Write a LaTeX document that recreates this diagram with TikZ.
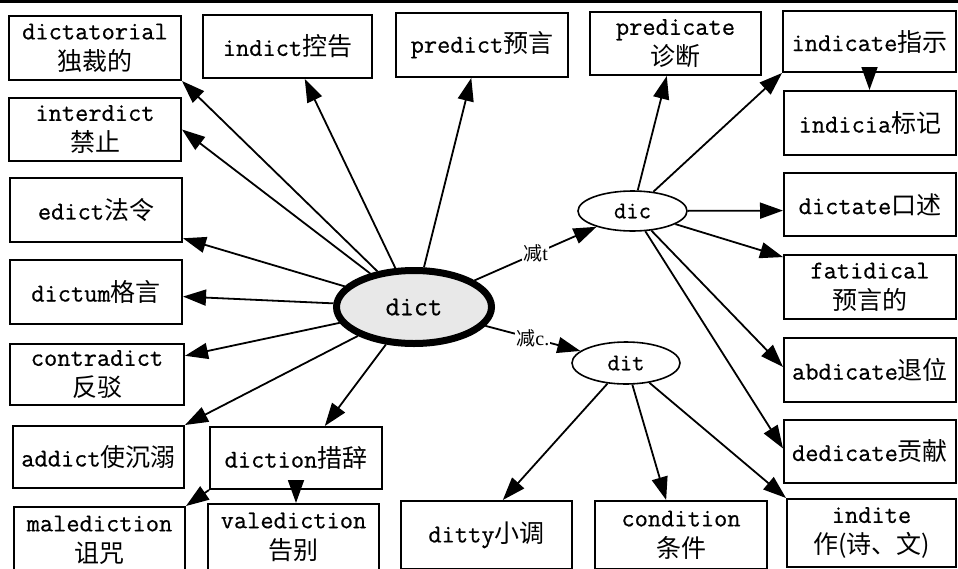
\documentclass[tikz,border=0pt]{standalone}
\usepackage{fontspec}
\newfontfamily\serf{Liberation Serif}
\newfontfamily\cjk{Noto Sans CJK SC}
\newfontfamily\ttx{Latin Modern Mono}[FakeBold=0.6]
\usetikzlibrary{arrows.meta,shapes.geometric}
\newcommand\zh[1]{{\cjk\fontsize{25}{31}\selectfont #1}}
\newcommand\zhs[1]{{\cjk\fontsize{19}{21}\selectfont #1}}
\tikzset{
  box/.style={draw, line width=2pt, rectangle, inner sep=0pt, align=center,
    minimum width=172pt, minimum height=64pt,
    font={\ttx\fontsize{25.7}{31}\selectfont}},
  arr/.style={line width=1.8pt, -{Triangle[length=23pt,width=16pt]}},
  root/.style={ellipse, draw, line width=7pt, fill=black!9, inner sep=0pt,
    minimum width=155pt, minimum height=73pt, font={\ttx\fontsize{27.5}{30}\selectfont}},
  sub/.style={ellipse, draw, line width=1.6pt, fill=white, inner sep=0pt,
    minimum width=109pt, minimum height=40pt, font={\ttx\fontsize{24}{26}\selectfont}},
  elabel/.style={fill=white, inner sep=1pt, font={\serf\fontsize{20}{21}\selectfont}}
}
\begin{document}
\begin{tikzpicture}[x=1pt,y=-1pt]
\useasboundingbox (0,0) rectangle (958,568);
\fill[white] (0,0) rectangle (958,568);
\coordinate (tl) at (0,1.5);
\coordinate (tr) at (958,1.5);
\draw[line width=3pt] (tl) -- (tr);

% left column
\node[box, minimum height=64pt] (dictatorial) at (95,48) {dictatorial\\\zh{独裁的}};
\node[box, minimum height=63pt] (interdict) at (95,129.5) {interdict\\\zh{禁止}};
\node[box] (edict) at (96,210) {edict\zh{法令}};
\node[box] (dictum) at (96,292) {dictum\zh{格言}};
\node[box, minimum width=174pt, minimum height=61pt] (contradict) at (97,374.5) {contradict\\\zh{反驳}};
\node[box, minimum width=171pt, minimum height=62pt] (addict) at (98.5,457) {addict\zh{使沉溺}};
\node[box, minimum width=171pt, minimum height=66pt] (malediction) at (99.5,540) {malediction\\\zh{诅咒}};
\node[box, minimum height=62pt] (diction) at (296,458) {diction\zh{措辞}};
\node[box, minimum width=171pt, minimum height=66pt] (valediction) at (293.5,537) {valediction\\\zh{告别}};

% top row
\node[box, minimum width=169pt, minimum height=63pt] (indict) at (287.5,46.5) {indict\zh{控告}};
\node[box] (predict) at (482,45) {predict\zh{预言}};
\node[box, minimum width=171pt, minimum height=63pt] (predicate) at (675.5,43.5) {predicate\\\zh{诊断}};
\node[box, minimum width=173pt, minimum height=61pt] (indicate) at (869.5,41.5) {indicate\zh{指示}};

% right column
\node[box] (indicia) at (870,123) {indicia\zh{标记}};
\node[box, minimum height=63pt] (dictate) at (870,204.5) {dictate\zh{口述}};
\node[box] (fatidical) at (870,287) {fatidical\\\zh{预言的}};
\node[box] (abdicate) at (870,370) {abdicate\zh{退位}};
\node[box, minimum height=63pt] (dedicate) at (870,451.5) {dedicate\zh{贡献}};

% bottom row
\node[box, minimum width=171pt, minimum height=68pt] (ditty) at (486.5,535) {ditty\zh{小调}};
\node[box, minimum width=172pt, minimum height=68pt] (condition) at (681,535) {condition\\\zh{条件}};
\node[box, minimum width=169pt, minimum height=68pt] (indite) at (871.5,533) {indite\\\zh{作(诗、文)}};

% ellipses
\node[root] (dict) at (414,307) {dict};
\node[sub] (dic) at (632.5,211) {dic};
\node[sub, minimum width=108pt, minimum height=42pt] (dit) at (626,363) {dit};

% dict arrows
\draw[arr] (dict) -- (dictatorial.south east);
\draw[arr] (dict) -- (interdict.east);
\draw[arr] (dict) -- (edict.-18);
\draw[arr] (dict) -- (dictum.-3);
\draw[arr] (dict) -- (contradict.12);
\draw[arr] (dict) -- (addict.north east);
\draw[arr] (dict) -- (diction.48);
\draw[arr] (dict) -- (indict.-62);
\draw[arr] (dict) -- (predict.-108);
\draw[arr] (dict) -- node[elabel]{\zhs{减}t} (dic);
\draw[arr] (dict) -- node[elabel]{\zhs{减}c.} (dit);

% dic arrows
\draw[arr] (dic) -- (predicate.-105);
\draw[arr] (dic) -- (indicate.south west);
\draw[arr] (dic) -- (dictate.184);
\draw[arr] (dic) -- (fatidical.161);
\draw[arr] (dic) -- (abdicate.178);
\draw[arr] (dic) -- (dedicate.178);

% dit arrows
\draw[arr] (dit) -- (ditty.65);
\draw[arr] (dit) -- (condition.113);
\draw[arr] (dit) -- (indite.north west);

% short arrows
\draw[arr] (indicate.south) -- (indicate.south |- indicia.north);
\draw[arr] (diction.south) -- (diction.south |- valediction.north);
\draw[arr] (diction.south west) -- (malediction.north east);
\end{tikzpicture}
\end{document}
